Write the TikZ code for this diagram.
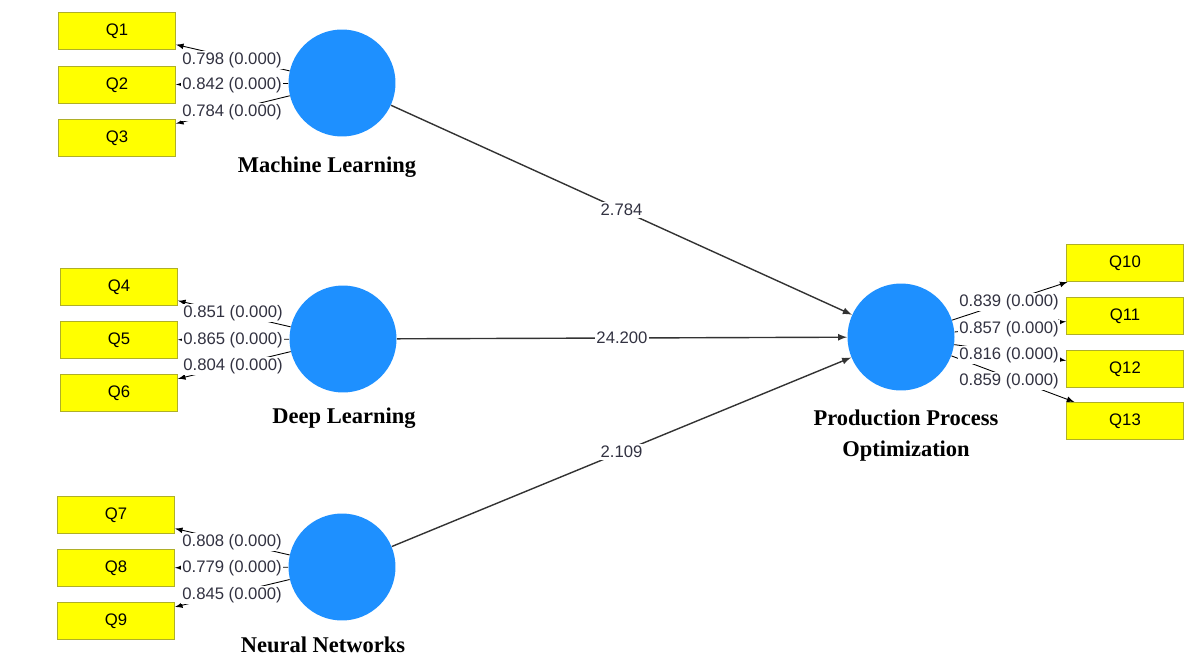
\documentclass[tikz,border=0pt]{standalone}
\usepackage{fontspec}
\setmainfont{Liberation Sans}
\newfontfamily\titlefont{Liberation Serif}
\usepackage{tikz}
\usetikzlibrary{arrows}

\definecolor{lvblue}{RGB}{30,144,255}
\definecolor{mvyellow}{RGB}{255,255,0}
\definecolor{mvedge}{RGB}{175,175,40}
\definecolor{loadgray}{RGB}{50,50,65}

\begin{document}
\begin{tikzpicture}[x=0.02cm,y=-0.02cm,>=latex,
    latent/.style={circle,fill=lvblue,minimum size=2.14cm,inner sep=0pt},
    indicator/.style={rectangle,fill=mvyellow,draw=mvedge,line width=0.6pt,
        minimum width=2.34cm,minimum height=0.74cm,inner sep=0pt,
        font=\fontsize{9.5}{11}\selectfont},
    loading/.style={fill=white,inner sep=0.6pt,text=loadgray,
        font=\fontsize{9.5}{11}\selectfont},
    coef/.style={fill=white,inner sep=1pt,text=loadgray,
        font=\fontsize{9.5}{11}\selectfont},
    lvname/.style={align=center,
        font=\titlefont\bfseries\fontsize{12.8}{17.6}\selectfont}]
\useasboundingbox (0,0) rectangle (1193,669);

% latent variables
\node[latent] (ml)  at (342,83)  {};
\node[latent] (dl)  at (343,339) {};
\node[latent] (nn)  at (342,567) {};
\node[latent] (ppo) at (901,337) {};

\node[lvname] (mlname)  at (327,167) {Machine Learning};
\node[lvname] (dlname)  at (344,418) {Deep Learning};
\node[lvname] (nnname)  at (323,645) {Neural Networks};
\node[lvname] (pponame) at (906,436) {Production Process\\Optimization};

% indicators
\node[indicator] (q1)  at (117,31)  {Q1};
\node[indicator] (q2)  at (117,85)  {Q2};
\node[indicator] (q3)  at (117,138) {Q3};
\node[indicator] (q4)  at (119,287) {Q4};
\node[indicator] (q5)  at (119,340) {Q5};
\node[indicator] (q6)  at (119,393) {Q6};
\node[indicator] (q7)  at (116,515) {Q7};
\node[indicator] (q8)  at (116,568) {Q8};
\node[indicator] (q9)  at (116,621) {Q9};
\node[indicator] (q10) at (1125,263) {Q10};
\node[indicator] (q11) at (1125,316) {Q11};
\node[indicator] (q12) at (1125,369) {Q12};
\node[indicator] (q13) at (1125,421) {Q13};

% outer model
\begin{scope}[black,line width=0.5pt]
    \draw[->] (ml) -- (q1);
    \draw[->] (ml) -- (q2);
    \draw[->] (ml) -- (q3);
    \draw[->] (dl) -- (q4);
    \draw[->] (dl) -- (q5);
    \draw[->] (dl) -- (q6);
    \draw[->] (nn) -- (q7);
    \draw[->] (nn) -- (q8);
    \draw[->] (nn) -- (q9);
    \draw[->] (ppo) -- (q10);
    \draw[->] (ppo) -- (q11);
    \draw[->] (ppo) -- (q12);
    \draw[->] (ppo) -- (q13);
\end{scope}

\node[loading] (l1)  at (232,60)  {0.798 (0.000)};
\node[loading] (l2)  at (232,85)  {0.842 (0.000)};
\node[loading] (l3)  at (232,112) {0.784 (0.000)};
\node[loading] (l4)  at (233,313) {0.851 (0.000)};
\node[loading] (l5)  at (233,340) {0.865 (0.000)};
\node[loading] (l6)  at (233,366) {0.804 (0.000)};
\node[loading] (l7)  at (232,542) {0.808 (0.000)};
\node[loading] (l8)  at (232,568) {0.779 (0.000)};
\node[loading] (l9)  at (232,595) {0.845 (0.000)};
\node[loading] (l10) at (1009,302) {0.839 (0.000)};
\node[loading] (l11) at (1009,329) {0.857 (0.000)};
\node[loading] (l12) at (1009,355) {0.816 (0.000)};
\node[loading] (l13) at (1009,381) {0.859 (0.000)};

% inner model
\begin{scope}[black!80,line width=0.8pt]
    \draw[->] (ml) -- node[coef]{2.784} (ppo);
    \draw[->] (dl) -- node[coef]{24.200} (ppo);
    \draw[->] (nn) -- node[coef]{2.109} (ppo);
\end{scope}
\end{tikzpicture}
\end{document}
